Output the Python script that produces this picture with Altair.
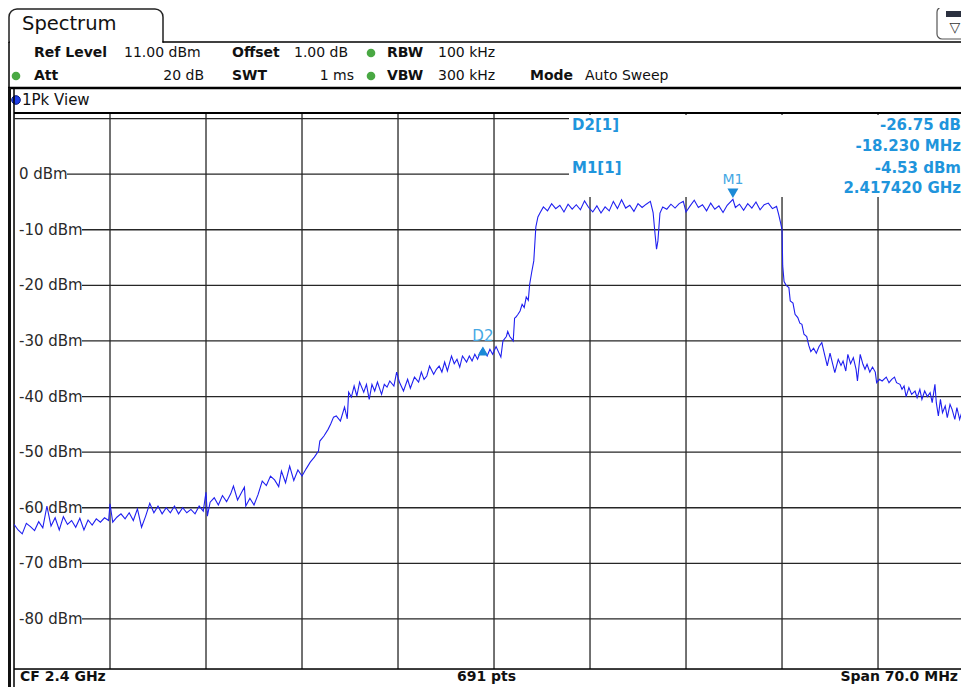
import altair as alt
import pandas as pd

# ---------------- trace ----------------
FREQ_MHZ = [
    2365.0, 2365.3, 2365.6, 2365.9, 2366.2, 2366.5, 2366.8, 2367.1, 2367.4, 2367.7,
    2368.0, 2368.3, 2368.6, 2368.9, 2369.2, 2369.5, 2369.8, 2370.1, 2370.4, 2370.7,
    2371.0, 2371.3, 2371.6, 2371.9, 2372.0, 2372.2, 2372.5, 2372.8, 2373.1, 2373.4,
    2373.7, 2374.0, 2374.3, 2374.6, 2374.9, 2375.2, 2375.5, 2375.8, 2376.1, 2376.4,
    2376.7, 2377.0, 2377.3, 2377.6, 2377.9, 2378.2, 2378.5, 2378.8, 2379.0, 2379.1,
    2379.3, 2379.6, 2379.9, 2380.2, 2380.5, 2380.8, 2381.0, 2381.3, 2381.6, 2381.8,
    2381.9, 2382.2, 2382.5, 2382.8, 2383.1, 2383.4, 2383.7, 2384.0, 2384.3, 2384.5,
    2384.8, 2385.1, 2385.4, 2385.7, 2386.0,
    2386.3, 2386.6, 2386.9, 2387.2, 2387.3, 2387.6, 2387.9, 2388.1, 2388.3, 2388.5,
    2388.8, 2389.1, 2389.3, 2389.4, 2389.6, 2389.8, 2390.0, 2390.2, 2390.5, 2390.7,
    2390.9, 2391.1, 2391.3, 2391.5, 2391.8, 2392.0, 2392.2, 2392.4, 2392.7, 2392.9,
    2393.1, 2393.4, 2393.7, 2393.9, 2394.2, 2394.5, 2394.7, 2394.9, 2395.1, 2395.3,
    2395.6, 2395.8, 2396.0, 2396.2, 2396.4, 2396.6, 2396.9, 2397.1, 2397.3, 2397.5,
    2397.7, 2398.0, 2398.2, 2398.4, 2398.6, 2398.8, 2399.0, 2399.19, 2399.5, 2399.7, 2399.9,
    2400.15, 2400.35, 2400.5, 2400.65, 2400.9, 2401.0, 2401.15, 2401.4, 2401.5, 2401.6,
    2401.75, 2401.9, 2402.05, 2402.2, 2402.35, 2402.5, 2402.6, 2402.75, 2402.9, 2403.05,
    2403.2, 2403.35, 2403.6,
    2403.9, 2404.2, 2404.5, 2404.8, 2405.1, 2405.4, 2405.7, 2406.0, 2406.3, 2406.6,
    2406.9, 2407.2, 2407.5, 2407.8, 2408.1, 2408.4, 2408.7, 2409.0, 2409.3, 2409.6,
    2409.9, 2410.2, 2410.5, 2410.8, 2411.1, 2411.4, 2411.6, 2411.75, 2411.85, 2411.95,
    2412.1, 2412.3, 2412.6, 2412.9, 2413.2, 2413.5, 2413.8, 2414.0, 2414.3, 2414.6,
    2414.9, 2415.2, 2415.5, 2415.8, 2416.1, 2416.4, 2416.7, 2417.0, 2417.42, 2417.6,
    2417.9, 2418.2, 2418.5, 2418.8, 2419.1, 2419.4, 2419.7, 2420.0, 2420.3, 2420.6,
    2420.75, 2420.9, 2421.0, 2421.05, 2421.15, 2421.3, 2421.5, 2421.6, 2421.8, 2421.95,
    2422.15, 2422.3, 2422.45, 2422.6, 2422.8, 2422.95, 2423.1, 2423.3, 2423.5, 2423.7,
    2423.9, 2424.1, 2424.3, 2424.5, 2424.7, 2424.85, 2425.1, 2425.3, 2425.45, 2425.65,
    2425.8, 2426.0, 2426.2, 2426.4, 2426.5, 2426.7, 2426.9, 2427.05, 2427.2, 2427.4,
    2427.6, 2427.8, 2427.9, 2428.1, 2428.3, 2428.6, 2428.8, 2429.0, 2429.2, 2429.35,
    2429.6, 2429.75, 2429.9, 2430.05, 2430.25, 2430.45, 2430.7, 2430.85, 2431.05, 2431.2,
    2431.4, 2431.6, 2431.8, 2431.95, 2432.15, 2432.25, 2432.4, 2432.55, 2432.7, 2432.9,
    2433.05, 2433.25, 2433.4, 2433.6, 2433.75, 2433.95, 2434.1, 2434.3, 2434.45, 2434.6,
]
LEVEL_DBM = [
    -63.0, -64.0, -64.7, -62.8, -63.4, -64.1, -62.5, -63.6, -59.7, -63.3,
    -61.8, -64.0, -61.6, -63.0, -62.3, -63.5, -61.9, -64.0, -62.2, -63.1,
    -62.0, -62.6, -61.8, -62.3, -59.3, -62.6, -61.7, -61.1, -62.0, -60.9,
    -62.3, -60.2, -63.5, -61.5, -59.2, -60.9, -59.7, -61.1, -60.0, -60.9,
    -59.7, -61.1, -60.0, -60.9, -60.3, -61.1, -59.7, -60.6, -57.2, -61.5,
    -59.0, -58.2, -59.5, -57.8, -58.9, -57.5, -56.1, -58.6, -57.2, -56.3,
    -59.7, -58.3, -59.5, -57.6, -55.2, -56.0, -54.3, -55.0, -56.2, -53.4,
    -55.5, -52.5, -55.1, -53.2, -54.3,
    -53.0, -51.8, -50.9, -49.8, -48.0, -47.1, -45.9, -44.9, -43.7, -43.5,
    -44.4, -41.9, -44.0, -39.2, -40.1, -38.1, -39.9, -37.4, -39.2, -37.8,
    -40.5, -37.8, -39.0, -37.4, -39.6, -37.8, -38.3, -37.2, -38.1, -35.6,
    -37.4, -39.0, -36.9, -38.5, -36.5, -37.4, -35.6, -36.9, -36.3, -34.5,
    -36.0, -35.1, -34.5, -35.6, -33.8, -35.4, -32.7, -34.1, -33.3, -34.7,
    -32.7, -33.8, -32.7, -33.6, -32.4, -33.3, -32.0, -31.3, -32.7, -31.5, -32.4,
    -31.0, -32.1, -32.9, -30.0, -29.2, -28.3, -29.2, -30.0, -25.9, -25.7,
    -25.2, -24.6, -23.4, -24.0, -22.1, -22.7, -19.8, -17.6, -15.6, -9.5,
    -7.7, -7.0, -5.9,
    -6.6, -5.3, -6.2, -5.6, -6.8, -5.4, -6.3, -5.5, -6.4, -4.8,
    -6.0, -6.8, -5.7, -7.0, -5.9, -6.6, -4.9, -6.2, -4.6, -6.1,
    -5.6, -6.7, -5.3, -6.0, -5.4, -4.9, -6.9, -11.0, -13.5, -12.0,
    -7.0, -5.9, -6.3, -5.4, -6.1, -5.3, -4.9, -6.8, -5.7, -4.7,
    -6.0, -5.5, -6.6, -5.2, -6.3, -5.7, -6.9, -5.6, -4.53, -6.0,
    -5.4, -6.5, -5.3, -6.1, -5.0, -6.4, -5.5, -5.2, -6.2, -5.8,
    -7.2, -8.8, -10.0, -16.5, -19.3, -20.0, -20.4, -22.8, -23.2, -25.2,
    -25.8, -26.8, -27.0, -28.8, -29.2, -30.8, -31.9, -31.3, -32.2, -31.0,
    -30.3, -32.4, -34.5, -32.2, -34.2, -35.7, -33.3, -34.4, -33.6, -35.4,
    -32.4, -34.1, -33.0, -35.1, -37.2, -32.4, -34.2, -35.1, -34.2, -35.6,
    -34.7, -35.6, -37.5, -36.9, -37.2, -36.5, -37.5, -36.9, -36.5, -37.5,
    -37.8, -38.7, -38.1, -40.0, -38.4, -39.6, -39.0, -40.2, -38.7, -40.5,
    -39.0, -40.0, -39.3, -41.1, -37.8, -41.1, -43.5, -40.5, -42.9, -41.7,
    -43.8, -41.4, -42.3, -44.1, -42.0, -44.1, -42.9, -44.7, -45.3, -44.8,
]

GRID_FREQ_MHZ = [2372, 2379, 2386, 2393, 2400, 2407, 2414, 2421, 2428]
GRID_LEVEL_DBM = [10, 0, -10, -20, -30, -40, -50, -60, -70, -80]
GRID_LABELS = ["", "0 dBm", "-10 dBm", "-20 dBm", "-30 dBm", "-40 dBm",
               "-50 dBm", "-60 dBm", "-70 dBm", "-80 dBm"]

MARKER_NAMES = ["M1", "D2"]
MARKER_FREQ_MHZ = [2417.42, 2399.19]
MARKER_LEVEL_DBM = [-4.53, -31.28]

# the visible window: 96 px per 7 MHz division, cut by the page edge
F_START, F_VISIBLE_END = 2365.0, 2434.05
LEVEL_TOP, LEVEL_BOTTOM = 11.0, -89.0

W, H = 947, 556
FONT = "DejaVu Sans"
GRID = "#262626"
TRACE = "#1f1ff0"
MK_TXT = "#1f95dc"
MK_LBL = "#45a8e4"

ONE = pd.DataFrame({"k": [0]})
xs = alt.Scale(domain=[F_START, F_VISIBLE_END], nice=False, zero=False)
ys = alt.Scale(domain=[LEVEL_BOTTOM, LEVEL_TOP], nice=False, zero=False)


def T(s, x, y, size=14, bold=False, align="left", color="#111"):
    return alt.Chart(ONE).mark_text(
        text=s, align=align, baseline="middle", font=FONT, fontSize=size,
        fontWeight="bold" if bold else "normal", color=color,
    ).encode(x=alt.value(x), y=alt.value(y))


def R(x1, y1, x2, y2, color="#000", w=1.0):
    return alt.Chart(ONE).mark_rule(color=color, strokeWidth=w).encode(
        x=alt.value(x1), y=alt.value(y1), x2=alt.value(x2), y2=alt.value(y2))


def B(x1, y1, x2, y2, fill, stroke=None, w=1.0, **kw):
    args = dict(fill=fill, strokeWidth=w, **kw)
    if stroke:
        args["stroke"] = stroke
    return alt.Chart(ONE).mark_rect(**args).encode(
        x=alt.value(x1), x2=alt.value(x2), y=alt.value(y1), y2=alt.value(y2))


def DOT(x, y, color, size=55, stroke=None):
    args = dict(color=color, size=size, opacity=1)
    if stroke:
        args.update(stroke=stroke, strokeWidth=1)
    return alt.Chart(ONE).mark_circle(**args).encode(x=alt.value(x), y=alt.value(y))


layers = []

# ---------- header ----------
layers += [
    B(-5, -104, 149, -71, "white", stroke="#222", w=1.5,
      cornerRadiusTopLeft=8, cornerRadiusTopRight=8),
    R(-4, -71, 148, -71, color="white", w=3),
    R(149, -71, W, -71, w=1.5),
    R(-5, -71, -5, -25, w=1.5),
    T("Spectrum", 8, -89, size=19.5),
    # icon at top right
    B(923, -106, 955, -74, "white", stroke="#555", w=1.2, cornerRadius=5),
    B(932, -102, 950, -96, "#2b3140"),
    T("▽", 941, -85, size=14, align="center", color="#333"),
    # row 1
    T("Ref Level", 20, -60, bold=True),
    T("11.00 dBm", 110, -60),
    T("Offset", 218, -60, bold=True),
    T("1.00 dB", 280, -60),
    DOT(357, -60, "#49a843", size=75),
    T("RBW", 373, -60, bold=True),
    T("100 kHz", 424, -60),
    # row 2
    DOT(2, -37, "#49a843", size=75),
    T("Att", 20, -37, bold=True),
    T("20 dB", 190, -37, align="right"),
    T("SWT", 218, -37, bold=True),
    T("1 ms", 340, -37, align="right"),
    DOT(357, -37, "#49a843", size=75),
    T("VBW", 373, -37, bold=True),
    T("300 kHz", 424, -37),
    T("Mode", 516, -37, bold=True),
    T("Auto Sweep", 571, -37),
    # window title bar
    R(-6, -25, W, -25, w=2.5),
    DOT(2, -13, "#1f3fe8", size=75, stroke="#0a1a80"),
    T("1Pk View", 8, -13, size=15),
    # left frame
    B(-6, -25, -3, H + 18, "#111"),
    R(0, -25, 0, H + 18, w=1.5),
]

# ---------- grid ----------
vgrid = alt.Chart(pd.DataFrame({"f": GRID_FREQ_MHZ})).mark_rule(
    color=GRID, strokeWidth=1.3).encode(
    x=alt.X("f:Q", scale=xs, axis=None), y=alt.value(0), y2=alt.value(H))

gdf = pd.DataFrame({"lvl": GRID_LEVEL_DBM, "label": GRID_LABELS})
hgrid = alt.Chart(gdf).transform_calculate(
    x0="datum.label == '' ? 0 : 15.5 + 7.5 * length(datum.label)"
).mark_rule(color=GRID, strokeWidth=1.3).encode(
    x=alt.X("x0:Q", scale=None), x2=alt.value(W),
    y=alt.Y("lvl:Q", scale=ys, axis=None))

ylabels = alt.Chart(gdf).transform_filter("datum.label != ''").mark_text(
    align="left", baseline="middle", font=FONT, fontSize=15, color="#2a2a2a"
).encode(x=alt.value(5), y=alt.Y("lvl:Q", scale=ys, axis=None), text="label:N")

layers += [vgrid, hgrid, ylabels]

# marker-info box (covers grid at top right)
layers += [B(555, 2, W, 84, "white")]

# frame lines
layers += [
    R(0, 0, W, 0, w=2),
    R(0, H, W, H, w=1.5),
]

# ---------- trace ----------
trace = alt.Chart(pd.DataFrame({"f": FREQ_MHZ, "lvl": LEVEL_DBM})).mark_line(
    color=TRACE, strokeWidth=1.1, clip=True).encode(
    x=alt.X("f:Q", scale=xs, axis=None),
    y=alt.Y("lvl:Q", scale=ys, axis=None))
layers += [trace]

# ---------- markers ----------
mdf = pd.DataFrame({"name": MARKER_NAMES, "f": MARKER_FREQ_MHZ, "lvl": MARKER_LEVEL_DBM})
menc = dict(x=alt.X("f:Q", scale=xs, axis=None), y=alt.Y("lvl:Q", scale=ys, axis=None))
m1 = alt.Chart(mdf).transform_filter("datum.name == 'M1'")
d2 = alt.Chart(mdf).transform_filter("datum.name == 'D2'")
layers += [
    m1.mark_point(shape="triangle-down", filled=True, size=120, color="#1b8ad6",
                  opacity=1, yOffset=-6).encode(**menc),
    m1.mark_text(font=FONT, fontSize=14, color=MK_LBL, yOffset=-19).encode(text="name:N", **menc),
    d2.mark_point(shape="triangle-up", filled=True, size=110, color="#1b8ad6",
                  opacity=1, yOffset=3).encode(**menc),
    d2.mark_text(font=FONT, fontSize=15, color=MK_LBL, yOffset=-12).encode(text="name:N", **menc),
]

# marker table
layers += [
    T("D2[1]", 558, 12, size=15, bold=True, color=MK_TXT),
    T("-26.75 dB", W, 12, size=15, bold=True, color=MK_TXT, align="right"),
    T("-18.230 MHz", W, 33, size=15, bold=True, color=MK_TXT, align="right"),
    T("M1[1]", 558, 55, size=15, bold=True, color=MK_TXT),
    T("-4.53 dBm", W, 55, size=15, bold=True, color=MK_TXT, align="right"),
    T("2.417420 GHz", W, 75, size=15, bold=True, color=MK_TXT, align="right"),
]

# ---------- bottom bar ----------
layers += [
    T("CF 2.4 GHz", 6, 564, size=14, bold=True),
    T("691 pts", 443, 564, size=14, bold=True),
    T("Span 70.0 MHz", W - 3, 564, size=14, bold=True, align="right"),
]

chart = alt.layer(*layers).properties(
    width=W, height=H,
    padding={"left": 6, "top": 105, "right": 0, "bottom": 18},
    autosize=alt.AutoSizeParams(type="none"),
).configure_view(stroke=None).configure(background="white")

chart.save("out.html", embed_options={"renderer": "svg", "actions": False})
